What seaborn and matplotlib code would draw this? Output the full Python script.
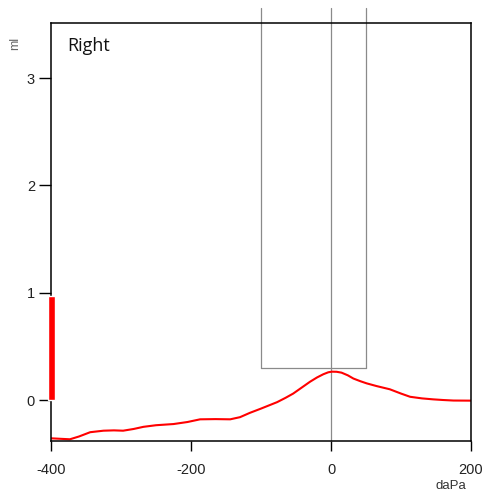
import matplotlib
matplotlib.use("Agg")
import matplotlib.pyplot as plt
import seaborn as sns
import pandas as pd

# tympanogram, right ear
pressure = [-400, -385, -373, -360, -344, -325, -310, -297, -282, -268, -250, -225, -205,
            -187, -165, -144, -130, -116, -100, -77, -65, -54, -42, -30, -20, -11, -4,
            1, 8, 15, 24, 32, 42, 51, 65, 84, 100, 113, 130, 146, 160, 175, 200]
compliance = [-0.357, -0.362, -0.366, -0.34, -0.30, -0.286, -0.283, -0.286, -0.27, -0.25,
              -0.235, -0.224, -0.205, -0.18, -0.178, -0.18, -0.16, -0.12, -0.08, -0.02,
              0.02, 0.06, 0.115, 0.17, 0.21, 0.24, 0.258, 0.264, 0.263, 0.255, 0.23,
              0.20, 0.175, 0.155, 0.13, 0.10, 0.06, 0.03, 0.015, 0.006, 0.0, -0.005, -0.006]

window_x = [-100, 50]      # pressure window of the gray box
window_floor = 0.3         # compliance floor of the gray box
window_top = 3.65
center_line = 0
scale_bar = [0, 0.97]      # red bar on the left axis
ear_label = "Right"

x_ticks = [-400, -200, 0, 200]
y_ticks = [0, 1, 2, 3]

sns.set_style("white")
plt.rcParams["font.family"] = ["Liberation Sans", "DejaVu Sans"]
plt.rcParams["axes.unicode_minus"] = False

df = pd.DataFrame({"daPa": pressure, "ml": compliance})

fig = plt.figure(figsize=(4.87, 4.94), dpi=100)
ax = fig.add_axes([51 / 487, 1 - 441 / 494, 420 / 487, 418 / 494])

sns.lineplot(data=df, x="daPa", y="ml", color="#ff0000", linewidth=1.5, ax=ax)

gray = "#8a8a8a"
for xv in window_x:
    ax.plot([xv, xv], [window_floor, window_top], color=gray, lw=0.9, clip_on=False, zorder=1)
ax.plot(window_x, [window_floor, window_floor], color=gray, lw=0.9, zorder=1)
ax.plot([center_line, center_line], [-0.382, window_top], color=gray, lw=0.9, clip_on=False, zorder=1)

ax.bar([-400], [scale_bar[1] - scale_bar[0]], bottom=scale_bar[0], width=10,
       color="#ff0000", clip_on=False, zorder=5)

ax.set_xlim(-400, 200)
ax.set_ylim(-0.382, 3.513)
ax.set_xticks(x_ticks)
ax.set_yticks(y_ticks)
ax.set_xlabel("")
ax.set_ylabel("")

for s in ax.spines.values():
    s.set_color("black")
    s.set_linewidth(1.1)

ax.tick_params(axis="y", direction="out", length=8.5, width=1, color="black",
               labelsize=10.5, labelcolor="#222222", pad=3, left=True)
ax.tick_params(axis="x", direction="out", length=7.5, width=1, color="black",
               labelsize=10.5, labelcolor="#222222", pad=8, bottom=True)

fig.text(67 / 487, 1 - 46 / 494, ear_label, fontsize=13, family=["Open Sans", "DejaVu Sans"],
         va="center", ha="left", color="#111111")
fig.text(15 / 487, 1 - 43 / 494, "ml", fontsize=9, rotation=90, va="center", ha="center", color="#666666")
fig.text(451 / 487, 1 - 486 / 494, "daPa", fontsize=9.5, va="center", ha="center", color="#333333")

fig.savefig("out.png", dpi=100)
